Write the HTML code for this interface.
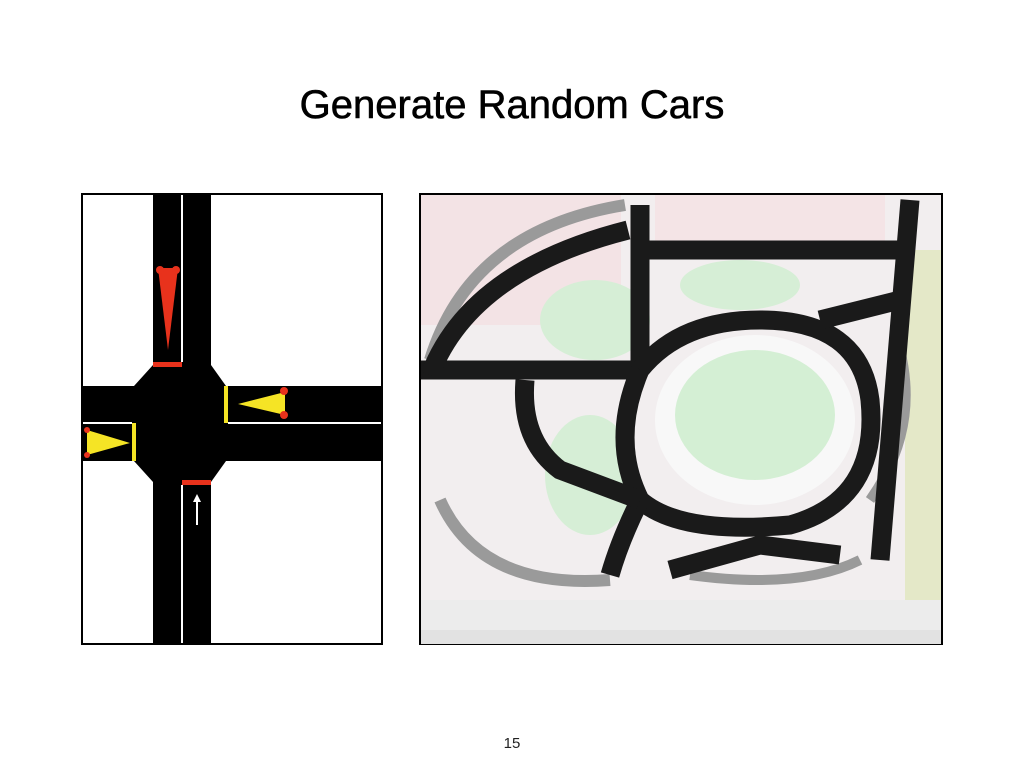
<!DOCTYPE html>
<html><head><meta charset="utf-8"><style>
body{margin:0;width:1024px;height:768px;background:#fff;overflow:hidden;position:relative;font-family:"Liberation Sans",sans-serif}
#title{position:absolute;top:83px;left:0;width:1024px;text-align:center;font-size:40px;color:#000;-webkit-text-stroke:0.6px #000}
#pnum{position:absolute;top:735px;left:0;width:1024px;text-align:center;font-size:15px;color:#222}
svg{position:absolute;left:0;top:0}
</style></head><body>
<div id="title">Generate Random Cars</div>
<svg width="1024" height="768">
<g>
<rect x="82" y="194" width="300" height="450" fill="#fff" stroke="#000" stroke-width="2"/>
<rect x="153" y="195" width="58" height="448" fill="#000"/>
<rect x="83" y="386" width="298" height="75" fill="#000"/>
<polygon points="153,365 211,365 226,386 226,461 211,482 153,482 134,461 134,386" fill="#000"/>
<line x1="182" y1="195" x2="182" y2="362" stroke="#fff" stroke-width="2"/>
<line x1="182" y1="485" x2="182" y2="643" stroke="#fff" stroke-width="2"/>
<line x1="228" y1="423" x2="381" y2="423" stroke="#fff" stroke-width="2"/>
<line x1="83" y1="423" x2="132" y2="423" stroke="#fff" stroke-width="2"/>
<rect x="153" y="362" width="29" height="5" fill="#e8321c"/>
<rect x="182" y="480" width="29" height="5" fill="#e8321c"/>
<rect x="224" y="386" width="4" height="37" fill="#f5e425"/>
<rect x="132" y="423" width="4" height="38" fill="#f5e425"/>
<polygon points="158,268 178,268 168,350" fill="#e8321c"/>
<circle cx="160" cy="270" r="4" fill="#e8321c"/><circle cx="176" cy="270" r="4" fill="#e8321c"/>
<polygon points="285,392 285,415 238,404" fill="#f5e425"/>
<circle cx="284" cy="391" r="4" fill="#e8321c"/><circle cx="284" cy="415" r="4" fill="#e8321c"/>
<polygon points="87,430 87,455 130,443" fill="#f5e425"/>
<circle cx="87" cy="430" r="3" fill="#e8321c"/><circle cx="87" cy="455" r="3" fill="#e8321c"/>
<line x1="197" y1="525" x2="197" y2="500" stroke="#fff" stroke-width="2"/>
<polygon points="193,502 201,502 197,494" fill="#fff"/>
</g>
<g>
<rect x="420" y="194" width="522" height="450" fill="#f2eeef" stroke="#000" stroke-width="2"/>
<rect x="421" y="195" width="200" height="130" fill="#f3e3e5"/>
<rect x="655" y="195" width="230" height="50" fill="#f4e4e6"/>
<rect x="905" y="250" width="36" height="350" fill="#e4e8c8"/>
<path d="M430,360 Q470,230 625,205" fill="none" stroke="#9a9a9a" stroke-width="12"/>
<path d="M440,500 Q480,590 610,580" fill="none" stroke="#9a9a9a" stroke-width="12"/>
<path d="M900,350 Q920,430 870,500" fill="none" stroke="#9a9a9a" stroke-width="10"/>
<path d="M690,575 Q800,590 860,560" fill="none" stroke="#9a9a9a" stroke-width="10"/>
<ellipse cx="595" cy="320" rx="55" ry="40" fill="#d6eed6"/>
<ellipse cx="740" cy="285" rx="60" ry="25" fill="#d6eed6"/>
<ellipse cx="755" cy="420" rx="100" ry="85" fill="#f8f8f8"/>
<ellipse cx="755" cy="415" rx="80" ry="65" fill="#d4efd4"/>
<ellipse cx="590" cy="475" rx="45" ry="60" fill="#d6eed6"/>
<g fill="none" stroke="#1a1a1a" stroke-width="19">
<path d="M421,370 L640,370"/>
<path d="M430,375 Q470,270 628,230"/>
<path d="M640,205 L640,370"/>
<path d="M640,250 L900,250"/>
<path d="M910,200 L880,560"/>
<path d="M640,370 Q680,320 760,320 Q860,320 870,400 Q880,500 790,525 Q680,535 640,500 Q610,440 640,370"/>
<path d="M640,500 Q620,540 610,575"/>
<path d="M640,500 L560,470 Q520,440 525,380"/>
<path d="M670,570 L760,545 L840,555"/>
<path d="M820,320 L900,300"/>
</g>
<rect x="421" y="600" width="520" height="44" fill="#ececec"/>
<rect x="421" y="630" width="520" height="14" fill="#e2e2e2"/>
</g>
</svg>
<div id="pnum">15</div>
</body></html>
